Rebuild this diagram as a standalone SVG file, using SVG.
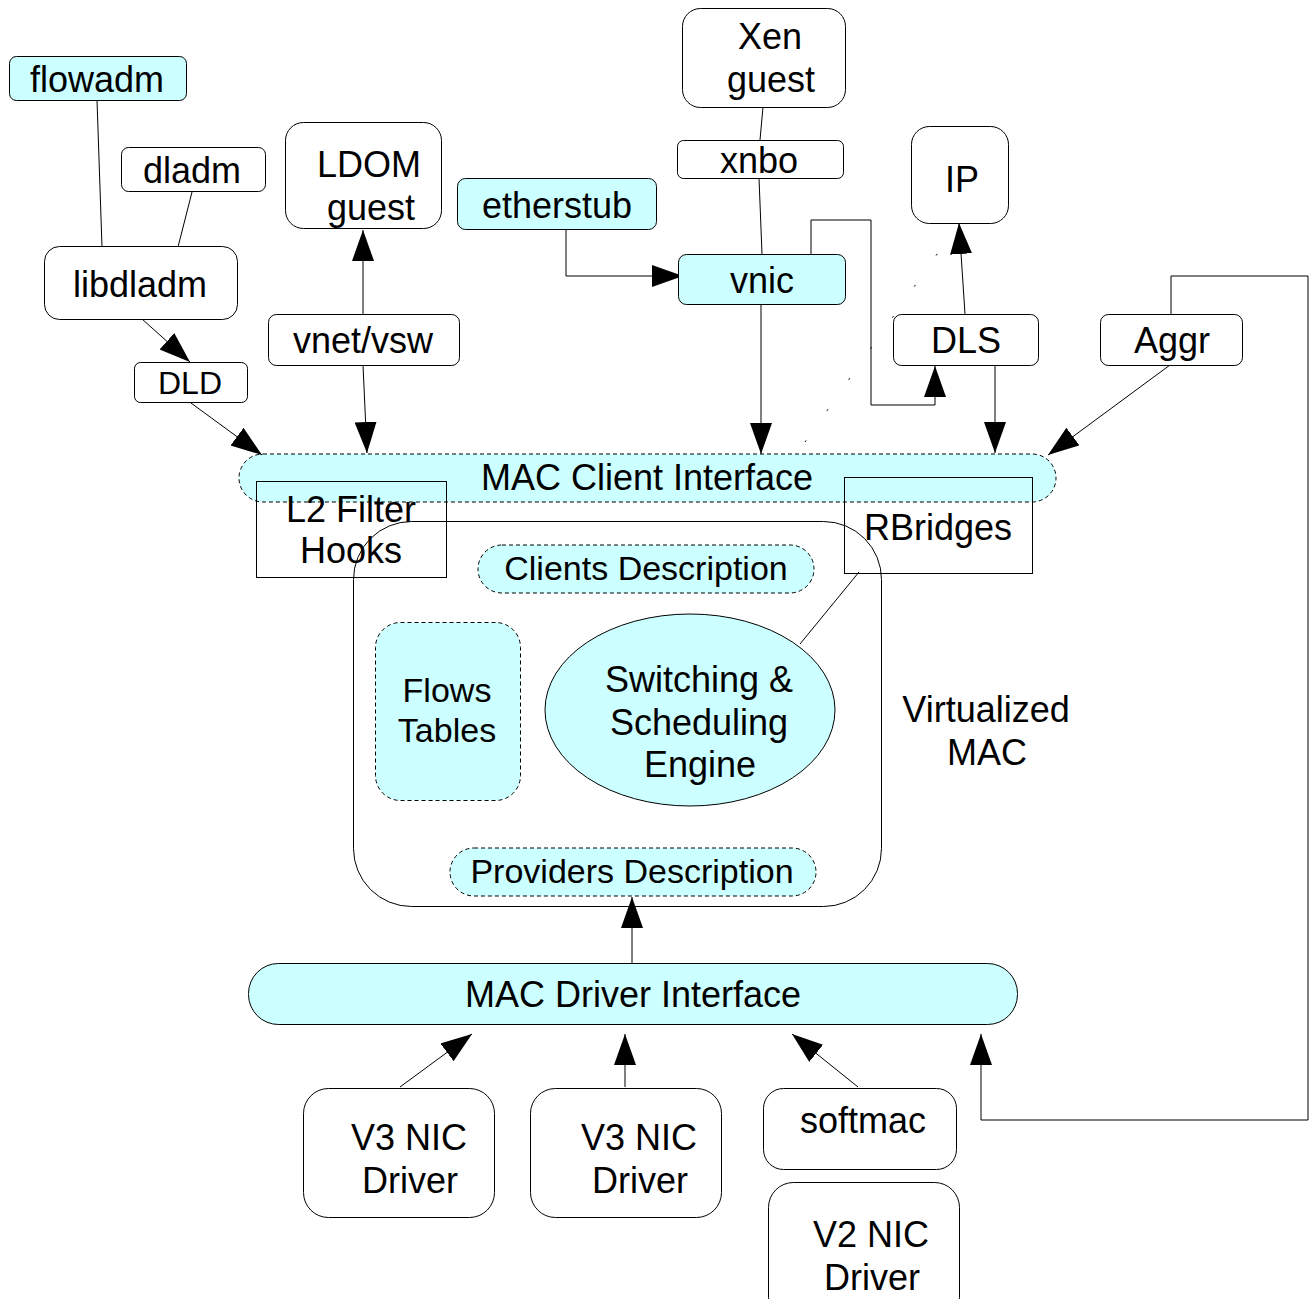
<svg xmlns="http://www.w3.org/2000/svg" width="1309" height="1299" viewBox="0 0 1309 1299">
<defs>
<marker id="arr" markerUnits="userSpaceOnUse" markerWidth="32" markerHeight="24" refX="31" refY="11" orient="auto"><path d="M0,0 L31,11 L0,22 z" fill="#000"/></marker>
<style>
text{font-family:"Liberation Sans",Arial,sans-serif;font-size:36px;fill:#000;text-anchor:middle}
.n{fill:#fff;stroke:#000;stroke-width:1}
.c{fill:#ccffff;stroke:#000;stroke-width:1}
.d{fill:#ccffff;stroke:#000;stroke-width:1;stroke-dasharray:4 3}
.o{fill:none;stroke:#000;stroke-width:1}
.l{fill:none;stroke:#000;stroke-width:1}
.a{marker-end:url(#arr)}
.s{font-size:34px}
</style>
</defs>
<rect width="1309" height="1299" fill="#fff"/>

<g id="mac-client"><rect class="d" x="239" y="454" width="817" height="48" rx="24"/><text x="647" y="490">MAC Client Interface</text></g>

<g id="connectors">
<path class="l" d="M97,100 L102,247"/>
<path class="l" d="M192,192 L178,247"/>
<path class="l a" d="M142,319 L190,362"/>
<path class="l a" d="M191,403 L262,455"/>
<path class="l a" d="M363,314 L363,230"/>
<path class="l a" d="M363,365 L367,453"/>
<path class="l" d="M763,107 L760,140"/>
<path class="l" d="M759,178 L762,254"/>
<path class="l a" d="M566,229 V276 H683"/>
<path class="l a" d="M761,305 V454"/>
<path class="l a" d="M811,258 V220 H871 V405 H935 V366"/>
<path class="l a" d="M965,314 L959,223"/>
<path class="l a" d="M995,366 V453"/>
<path class="l a" d="M1170,365 L1048,455"/>
<path class="l a" d="M1171,314 V276 H1308 V1120 H981 V1034"/>
<path class="l" d="M859,572 L800,644"/>
<path class="l a" d="M632,963 V897"/>
<path class="l a" d="M400,1087 L472,1034"/>
<path class="l a" d="M625,1087 V1034"/>
<path class="l a" d="M858,1087 L792,1034"/>
<path class="l" d="M805,442 L940,250" stroke-dasharray="2 36"/>
</g>

<g id="flowadm"><rect class="c" x="9.5" y="56.5" width="177" height="44" rx="7"/><text x="97" y="92">flowadm</text></g>
<g id="dladm"><rect class="n" x="121.5" y="147.5" width="144" height="44" rx="7"/><text x="192" y="183">dladm</text></g>
<g id="libdladm"><rect class="n" x="44.5" y="246.5" width="193" height="73" rx="15"/><text x="140" y="297">libdladm</text></g>
<g id="ldom"><rect class="n" x="285.5" y="122.5" width="156" height="106" rx="18"/><text x="369" y="177">LDOM</text><text x="371" y="220">guest</text></g>
<g id="vnet"><rect class="n" x="268.5" y="314.5" width="191" height="51" rx="8"/><text x="363" y="353">vnet/vsw</text></g>
<g id="dld"><rect class="n" x="134.5" y="362.5" width="113" height="40" rx="6"/><text x="190" y="394" style="font-size:32px">DLD</text></g>
<g id="xen"><rect class="n" x="682.5" y="8.5" width="163" height="99" rx="18"/><text x="770" y="49">Xen</text><text x="771" y="92">guest</text></g>
<g id="xnbo"><rect class="n" x="677.5" y="140.5" width="166" height="38" rx="6"/><text x="759" y="173">xnbo</text></g>
<g id="etherstub"><rect class="c" x="457.5" y="178.5" width="199" height="51" rx="8"/><text x="557" y="218">etherstub</text></g>
<g id="vnic"><rect class="c" x="678.5" y="254.5" width="167" height="50" rx="8"/><text x="762" y="293">vnic</text></g>
<g id="ip"><rect class="n" x="911.5" y="126.5" width="97" height="97" rx="18"/><text x="962" y="192">IP</text></g>
<g id="dls"><rect class="n" x="893.5" y="314.5" width="145" height="51" rx="8"/><text x="966" y="353">DLS</text></g>
<g id="aggr"><rect class="n" x="1100.5" y="314.5" width="142" height="51" rx="8"/><text x="1172" y="353">Aggr</text></g>

<g id="l2filter"><rect class="o" x="256.5" y="481.5" width="190" height="96"/><text x="351" y="522">L2 Filter</text><text x="351" y="563">Hooks</text></g>
<g id="rbridges"><rect class="o" x="844.5" y="477.5" width="188" height="96"/><text x="938" y="540">RBridges</text></g>
<g id="vmac"><rect class="o" x="353.5" y="521.5" width="528" height="385" rx="58"/><text x="986" y="722">Virtualized</text><text x="987" y="765">MAC</text></g>
<g id="clients"><rect class="d" x="478" y="545" width="336" height="48" rx="24"/><text class="s" x="646" y="580">Clients Description</text></g>
<g id="flows"><rect class="d" x="375.5" y="622.5" width="145" height="178" rx="25"/><text class="s" x="447" y="702">Flows</text><text class="s" x="447" y="742">Tables</text></g>
<g id="engine"><ellipse class="c" cx="690" cy="710" rx="145" ry="96"/><text x="699" y="692">Switching &amp;</text><text x="699" y="735">Scheduling</text><text x="700" y="777">Engine</text></g>
<g id="providers"><rect class="d" x="450" y="848" width="366" height="48" rx="24"/><text class="s" x="632" y="883">Providers Description</text></g>
<g id="mac-driver"><rect class="c" x="248.5" y="963.5" width="769" height="61" rx="30"/><text x="633" y="1007">MAC Driver Interface</text></g>
<g id="v3a"><rect class="n" x="303.5" y="1088.5" width="191" height="129" rx="25"/><text x="409" y="1150">V3 NIC</text><text x="410" y="1193">Driver</text></g>
<g id="v3b"><rect class="n" x="530.5" y="1088.5" width="191" height="129" rx="25"/><text x="639" y="1150">V3 NIC</text><text x="640" y="1193">Driver</text></g>
<g id="softmac"><rect class="n" x="763.5" y="1088.5" width="193" height="81" rx="20"/><text x="863" y="1133">softmac</text></g>
<g id="v2"><rect class="n" x="768.5" y="1182.5" width="191" height="140" rx="25"/><text x="871" y="1247">V2 NIC</text><text x="872" y="1290">Driver</text></g>
</svg>
